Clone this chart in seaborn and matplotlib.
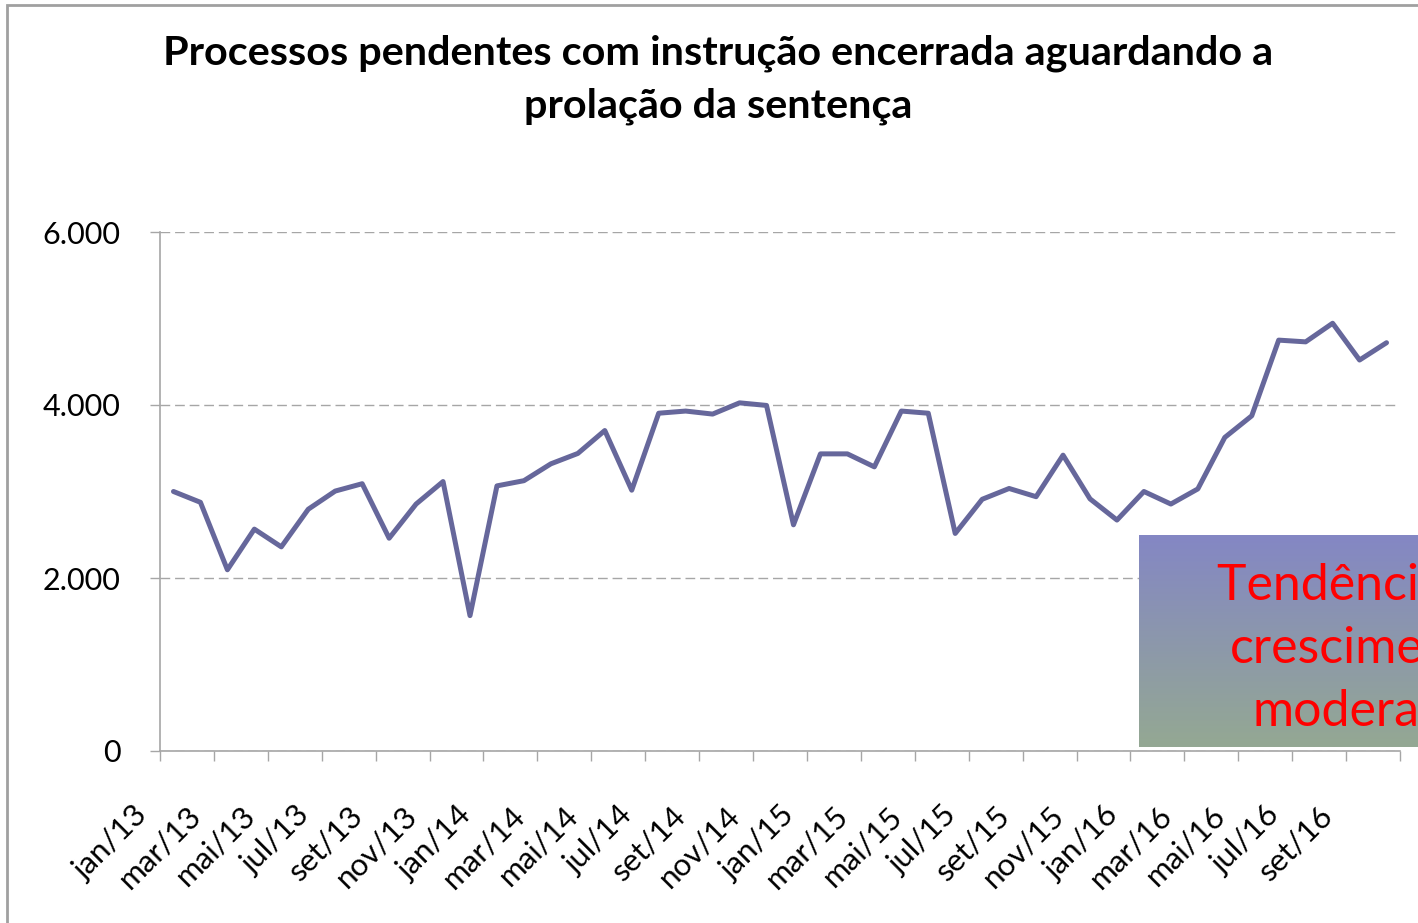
# Processos pendentes com instrução encerrada - recriação do gráfico
import numpy as np
import pandas as pd
import matplotlib.pyplot as plt
import matplotlib.transforms as mtransforms
from matplotlib.colors import LinearSegmentedColormap
from matplotlib.patches import Rectangle
from matplotlib.ticker import FuncFormatter
import seaborn as sns

# Dados
periodos = ['jan/13', 'fev/13', 'mar/13', 'abr/13', 'mai/13', 'jun/13', 'jul/13', 'ago/13', 'set/13', 'out/13', 'nov/13', 'dez/13',
            'jan/14', 'fev/14', 'mar/14', 'abr/14', 'mai/14', 'jun/14', 'jul/14', 'ago/14', 'set/14', 'out/14', 'nov/14', 'dez/14',
            'jan/15', 'fev/15', 'mar/15', 'abr/15', 'mai/15', 'jun/15', 'jul/15', 'ago/15', 'set/15', 'out/15', 'nov/15', 'dez/15',
            'jan/16', 'fev/16', 'mar/16', 'abr/16', 'mai/16', 'jun/16', 'jul/16', 'ago/16', 'set/16', 'out/16']
pendentes = [3000, 2875, 2095, 2565, 2360, 2795, 3005, 3090, 2460, 2855, 3115, 1565,
             3065, 3125, 3320, 3440, 3705, 3015, 3905, 3930, 3895, 4025, 3995, 2615,
             3435, 3435, 3285, 3930, 3905, 2515, 2910, 3035, 2940, 3420, 2915, 2670,
             3000, 2855, 3030, 3625, 3875, 4750, 4730, 4945, 4520, 4720]
yticks = [0, 2000, 4000, 6000]
titulo = 'Processos pendentes com instrução encerrada aguardando a\nprolação da sentença'
nota = 'Tendência de\ncrescimento\nmoderado'

df = pd.DataFrame({'pos': np.arange(len(pendentes)), 'valor': pendentes})

sns.set_style('white')
plt.rcParams['font.family'] = ['Lato', 'DejaVu Sans']
plt.rcParams['text.color'] = 'black'
plt.rcParams['xtick.labelcolor'] = 'black'
plt.rcParams['ytick.labelcolor'] = 'black'

W, H = 1418, 923
fig = plt.figure(figsize=(W / 100, H / 100), dpi=100)
ax = fig.add_axes([160 / W, 172 / H, 1240 / W, 519 / H])

sns.lineplot(data=df, x='pos', y='valor', color='#66679B', linewidth=3.6, ax=ax)

ax.set_xlim(-0.5, len(pendentes) - 0.5)
ax.set_ylim(0, 6000)
ax.set_xlabel('')
ax.set_ylabel('')

# eixo y
ax.set_yticks(yticks)
ax.yaxis.set_major_formatter(FuncFormatter(lambda v, p: f'{int(v):,}'.replace(',', '.')))
ax.tick_params(axis='y', which='major', direction='out', length=7.2, width=1,
               color='#A6A6A6', pad=21, labelsize=22, left=True, labelcolor='black')
ax.yaxis.grid(True, linestyle=(0, (7, 3.5)), color='#A6A6A6', linewidth=1)
ax.xaxis.grid(False)
ax.set_axisbelow(True)

# eixo x: rótulos a cada 2 meses, marcas entre categorias
ax.set_xticks(df['pos'][::2])
ax.set_xticklabels(periodos[::2])
ax.set_xticks(np.arange(-0.5, len(pendentes), 2), minor=True)
ax.tick_params(axis='x', which='major', length=0, pad=36, labelsize=22.5, labelcolor='black')
ax.tick_params(axis='x', which='minor', direction='out', length=7.2, width=1,
               color='#A6A6A6', bottom=True)
offset = mtransforms.ScaledTranslation(-0.21, 0, fig.dpi_scale_trans)
for lbl in ax.get_xticklabels():
    lbl.set_rotation(45)
    lbl.set_ha('right')
    lbl.set_va('top')
    lbl.set_transform(lbl.get_transform() + offset)

for s in ['top', 'right']:
    ax.spines[s].set_visible(False)
for s in ['left', 'bottom']:
    ax.spines[s].set_color('#A6A6A6')
    ax.spines[s].set_linewidth(1.2)

# título
fig.text(718 / W, 1 - 35 / H, titulo, ha='center', va='top', fontsize=29.8,
         fontweight='bold', color='black', linespacing=1.5)

# caixa com gradiente
cmap = LinearSegmentedColormap.from_list('grad', ['#8487C4', '#94A893'])
bax = fig.add_axes([1139 / W, (H - 747) / H, 426 / W, 212 / H])
bax.imshow(np.linspace(0, 1, 100).reshape(-1, 1), aspect='auto', cmap=cmap, extent=[0, 1, 0, 1])
bax.axis('off')
bax.text(0.528, 0.462, nota, ha='center', va='center', color='#FF0000', fontsize=36,
         linespacing=1.45, transform=bax.transAxes)

# moldura
fig.add_artist(Rectangle((7 / W, -0.1), 1.2, 1 - 5 / H + 0.1, transform=fig.transFigure,
                         fill=False, edgecolor='#A0A0A0', linewidth=2))

fig.savefig('out.png', dpi=100)
